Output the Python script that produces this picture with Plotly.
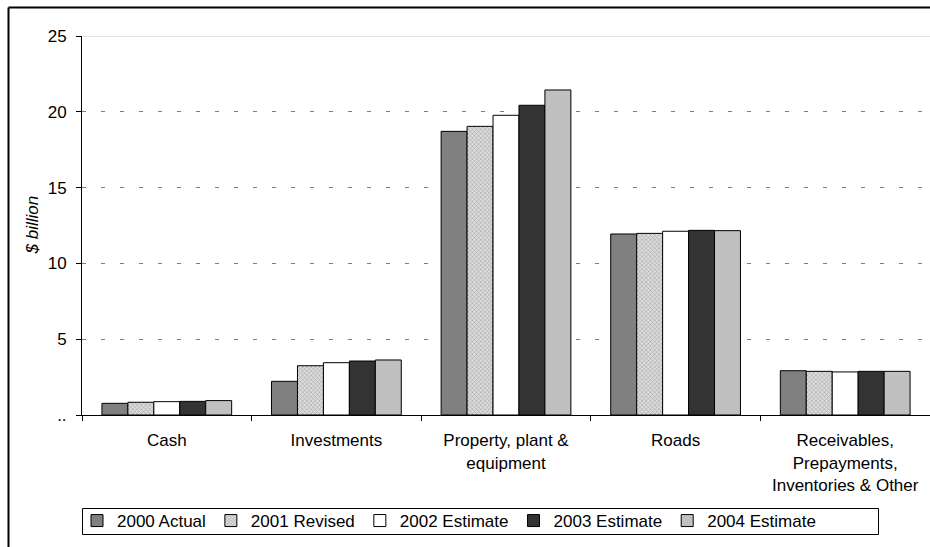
import plotly.graph_objects as go

# Asset categories (x axis) and the five year series, $ billion
categories = [
    "Cash",
    "Investments",
    "Property, plant &<br>equipment",
    "Roads",
    "Receivables,<br>Prepayments,<br>Inventories & Other",
]
series_names = ["2000 Actual", "2001 Revised", "2002 Estimate", "2003 Estimate", "2004 Estimate"]
actual_2000 = [0.77, 2.22, 18.71, 11.94, 2.92]
revised_2001 = [0.84, 3.25, 19.04, 11.98, 2.88]
estimate_2002 = [0.88, 3.45, 19.77, 12.12, 2.84]
estimate_2003 = [0.90, 3.56, 20.43, 12.18, 2.88]
estimate_2004 = [0.95, 3.63, 21.44, 12.16, 2.88]
y_ticks = [0, 5, 10, 15, 20, 25]
y_tick_text = ["..", "5", "10", "15", "20", "25"]

series_values = [actual_2000, revised_2001, estimate_2002, estimate_2003, estimate_2004]
fills = ["#808080", "#d9d9d9", "#ffffff", "#333333", "#c0c0c0"]

FONT = "Arial, Liberation Sans, sans-serif"
FS = 17

fig = go.Figure()
for i, (name, vals) in enumerate(zip(series_names, series_values)):
    marker = dict(color=fills[i], line=dict(color="#000000", width=1))
    if i == 1:
        marker["pattern"] = dict(shape="x", fgcolor="#9a9a9a", bgcolor="#dcdcdc",
                                 size=3, solidity=0.3, fillmode="replace")
    fig.add_trace(go.Bar(x=categories, y=vals, name=name, marker=marker))

W, H = 930, 547
L, R, T, B = 82, 0, 36, 132
pw, ph = W - L - R, H - T - B


def px_x(px):
    return (px - L) / pw


def px_y(py):
    return (H - B - py) / ph


shapes = [
    # light top border line of the plotting area
    dict(type="line", xref="paper", yref="y", x0=0, x1=1, y0=25, y1=25,
         line=dict(color="#c8c8c8", width=1), layer="below"),
    # outer chart frame (left and top edges)
    dict(type="line", xref="paper", yref="paper", x0=px_x(8.5), x1=px_x(8.5),
         y0=px_y(7.5), y1=px_y(560), line=dict(color="#000000", width=2)),
    dict(type="line", xref="paper", yref="paper", x0=px_x(8.5), x1=px_x(940),
         y0=px_y(7.5), y1=px_y(7.5), line=dict(color="#000000", width=2)),
    # legend frame
    dict(type="rect", xref="paper", yref="paper", x0=px_x(82.5), x1=px_x(878.5),
         y0=px_y(508.5), y1=px_y(534.5), line=dict(color="#000000", width=1),
         fillcolor="#ffffff", layer="below"),
]

fig.update_layout(
    width=W, height=H,
    margin=dict(l=L, r=R, t=T, b=B, pad=0),
    paper_bgcolor="#ffffff", plot_bgcolor="#ffffff",
    font=dict(family=FONT, size=FS, color="#000000"),
    barmode="group", bargap=0.235, bargroupgap=0,
    showlegend=True,
    legend=dict(orientation="h", x=px_x(77), xanchor="left", y=px_y(503), yanchor="top",
                bgcolor="rgba(0,0,0,0)", borderwidth=0,
                font=dict(family=FONT, size=FS, color="#000000"),
                traceorder="normal"),
    shapes=shapes,
    annotations=[dict(text="<i>$ billion</i>", xref="paper", yref="paper",
                      x=px_x(32), y=0.5, xanchor="center", yanchor="middle",
                      textangle=-90, showarrow=False,
                      font=dict(family=FONT, size=17, color="#000000"))],
)

fig.update_xaxes(
    type="category", showgrid=False, showline=True, linecolor="#000000", linewidth=1,
    ticks="outside", tickson="boundaries", ticklen=5, tickcolor="#000000",
    ticklabelstandoff=10,
    tickfont=dict(family=FONT, size=FS, color="#000000"),
)
fig.update_yaxes(
    range=[0, 25], tickvals=y_ticks, ticktext=y_tick_text,
    showgrid=True, gridcolor="#808080", gridwidth=1, griddash="4px,15px",
    showline=True, linecolor="#000000", linewidth=1,
    ticks="outside", ticklen=5, tickcolor="#000000", ticklabelstandoff=6,
    tickfont=dict(family=FONT, size=FS, color="#000000"),
    zeroline=False,
)

fig.write_html("out.html")
